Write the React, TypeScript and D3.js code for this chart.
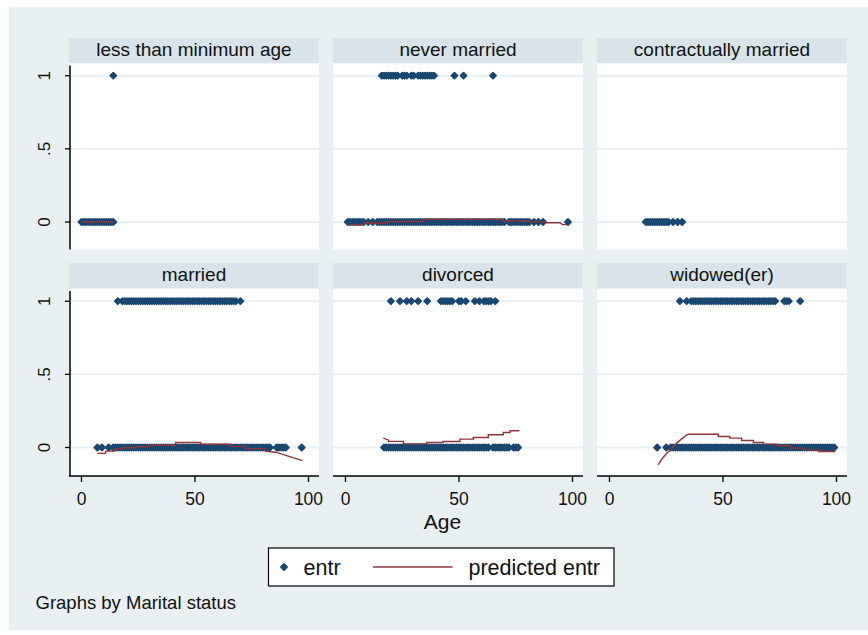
import React from "react";
import * as d3 from "d3";

// ---------- data ----------
const panelTitles = [
  "less than minimum age",
  "never married",
  "contractually married",
  "married",
  "divorced",
  "widowed(er)",
];
const xTicks = [0, 50, 100];
const yTicks = [0, 0.5, 1];
const yTickLabels = ["0", ".5", "1"];
const legendLabels = ["entr", "predicted entr"];
const xTitle = "Age";
const noteText = "Graphs by Marital status";

// ages with entr = 0 / entr = 1, per marital status
const lessMin0 = [0, 1, 2, 3, 4, 5, 6, 7, 8, 9, 10, 11, 12, 13, 14];
const lessMin1 = [14];
const lessMinPred: [number, number][] = [[0, 0], [14, 0]];

const never0 = [1, 2, 3, 4, 5, 6, 7, 8, 10, 12, 14, 15, 16, 17, 18, 19, 20, 21, 22, 23, 24, 25, 26, 27, 28, 29, 30, 31, 32, 33, 34, 35, 36, 37, 38, 39, 40, 41, 42, 43, 44, 45, 46, 47, 48, 49, 50, 51, 52, 53, 54, 55, 56, 57, 58, 59, 60, 61, 62, 63, 64, 65, 66, 67, 68, 69, 70, 72, 73, 74, 75, 76, 77, 78, 79, 80, 81, 83, 85, 87, 98];
const never1 = [16, 17, 18, 19, 20, 21, 22, 23, 25, 26, 27, 29, 30, 32, 33, 34, 35, 36, 37, 38, 39, 48, 52, 65];
const neverPred: [number, number][] = [
  [2, -0.018], [8, -0.018], [8, -0.007], [18.5, -0.007], [18.5, 0.003], [34, 0.003],
  [34, 0.018], [69.5, 0.018], [69.5, 0.007], [81, 0.007], [81, 0.001], [88.5, 0.001],
  [88.5, -0.005], [94.5, -0.005], [95.5, -0.018], [97.5, -0.018],
];

const contract0 = [16, 17, 18, 19, 20, 21, 22, 23, 24, 25, 26, 28, 30, 32];
const contract1: number[] = [];
const contractPred: [number, number][] = [];

const married0 = [7, 9, 12, 14, 15, 16, 17, 18, 19, 20, 21, 22, 23, 24, 25, 26, 27, 28, 29, 30, 31, 32, 33, 34, 35, 36, 37, 38, 39, 40, 41, 42, 43, 44, 45, 46, 47, 48, 49, 50, 51, 52, 53, 54, 55, 56, 57, 58, 59, 60, 61, 62, 63, 64, 65, 66, 67, 68, 69, 70, 71, 72, 73, 74, 75, 76, 77, 78, 79, 80, 81, 82, 83, 86, 87, 88, 89, 90, 97];
const married1 = [16, 18, 19, 20, 21, 22, 23, 24, 25, 26, 27, 28, 29, 30, 31, 32, 33, 34, 35, 36, 37, 38, 39, 40, 41, 42, 43, 44, 45, 46, 47, 48, 49, 50, 51, 52, 53, 54, 55, 56, 57, 58, 59, 60, 61, 62, 63, 64, 65, 66, 67, 68, 70];
const marriedPred: [number, number][] = [
  [7, -0.04], [10.6, -0.04], [10.6, -0.025], [14.3, -0.025], [14.3, -0.01], [18, -0.01],
  [18, -0.002], [23.9, -0.002], [23.9, 0.005], [29.7, 0.005], [29.7, 0.015], [41.5, 0.015],
  [41.5, 0.034], [52.5, 0.034], [52.5, 0.022], [65, 0.022], [65, 0.008], [72.3, 0.008],
  [72.3, -0.008], [81, -0.008], [81, -0.025], [85.5, -0.032], [97.3, -0.09],
];

const divorced0 = [17, 18, 19, 20, 21, 22, 23, 24, 25, 26, 27, 28, 29, 30, 31, 32, 33, 34, 35, 36, 37, 38, 39, 40, 41, 42, 43, 44, 45, 46, 47, 48, 49, 50, 51, 52, 53, 54, 55, 56, 57, 58, 59, 60, 61, 62, 63, 65, 66, 67, 68, 69, 70, 71, 72, 74, 75, 76];
const divorced1 = [20, 24, 27, 29, 32, 36, 42, 43, 44, 45, 46, 47, 50, 51, 53, 57, 59, 61, 62, 63, 64, 66];
const divorcedPred: [number, number][] = [
  [16.7, 0.064], [19, 0.05], [19, 0.042], [25.5, 0.042], [25.5, 0.025], [35.8, 0.025],
  [35.8, 0.034], [43, 0.034], [43, 0.041], [50.4, 0.041], [50.4, 0.057], [56.3, 0.057],
  [56.3, 0.068], [62.9, 0.068], [62.9, 0.087], [69.5, 0.087], [69.5, 0.103], [72.5, 0.103],
  [72.5, 0.114], [76.6, 0.114],
];

const widowed0 = [21, 25, 27, 28, 29, 30, 31, 32, 33, 34, 35, 36, 37, 38, 39, 40, 41, 42, 43, 44, 45, 46, 47, 48, 49, 50, 51, 52, 53, 54, 55, 56, 57, 58, 59, 60, 61, 62, 63, 64, 65, 66, 67, 68, 69, 70, 71, 72, 73, 74, 75, 76, 77, 78, 79, 80, 81, 82, 83, 84, 85, 86, 87, 88, 89, 90, 91, 92, 93, 94, 95, 96, 97, 98, 99];
const widowed1 = [31, 34, 36, 37, 38, 39, 40, 41, 42, 43, 44, 45, 46, 47, 48, 49, 50, 51, 52, 53, 54, 55, 56, 57, 58, 59, 60, 61, 62, 63, 64, 65, 66, 67, 68, 69, 70, 71, 72, 73, 77, 78, 79, 84];
const widowedPred: [number, number][] = [
  [21.5, -0.118], [23, -0.08], [25.2, -0.039], [27.4, -0.009], [29.6, 0.03], [31.8, 0.059],
  [34, 0.087], [35, 0.091], [47.9, 0.091], [47.9, 0.075], [53, 0.075], [53, 0.064],
  [58.2, 0.064], [58.2, 0.048], [63.4, 0.048], [63.4, 0.034], [67.8, 0.034], [67.8, 0.023],
  [73.7, 0.023], [73.7, 0.012], [79.6, 0.012], [79.6, -0.004], [85.5, -0.004], [85.5, -0.016],
  [92.2, -0.016], [92.2, -0.027], [99.5, -0.027],
];

const zeroAges = [lessMin0, never0, contract0, married0, divorced0, widowed0];
const oneAges = [lessMin1, never1, contract1, married1, divorced1, widowed1];
const predLines = [lessMinPred, neverPred, contractPred, marriedPred, divorcedPred, widowedPred];

// ---------- styles ----------
const FONT = "'Liberation Sans', Arial, Helvetica, sans-serif";
const BG = "#e9f0f2";
const STRIP = "#d8e4e9";
const GRID = "#e8eff2";
const NAVY = "#1a476f";
const MAROON = "#90353b";

const colLeft = [69, 333, 597];
const panelW = 250;
const stripTop = [38, 263];
const stripH = 25;
const plotTop = [63.5, 289];
const plotH = [186, 187];

const diamond = (cx: number, cy: number, r: number) =>
  `M${cx},${cy - r}L${cx + r},${cy}L${cx},${cy + r}L${cx - r},${cy}Z`;

const Marker = ({ cx, cy }: { cx: number; cy: number }) => (
  <path
    d={diamond(cx, cy, 3)}
    fill={NAVY}
    stroke={NAVY}
    strokeWidth={1.8}
    strokeLinejoin="round"
  />
);

export default function App() {
  const panels = panelTitles.map((title, i) => {
    const col = i % 3;
    const row = Math.floor(i / 3);
    const x = d3.scaleLinear().domain([0, 100]).range([colLeft[col] + 12.5, colLeft[col] + 239.5]);
    const y = d3.scaleLinear().domain([0, 1]).range([plotTop[row] + 158.5, plotTop[row] + 12.2]);
    const line = d3
      .line<[number, number]>()
      .x((d) => x(d[0]))
      .y((d) => y(d[1]));
    const left = colLeft[col];
    const top = plotTop[row];
    const bottom = top + plotH[row];
    return (
      <g key={title}>
        <rect x={left} y={stripTop[row]} width={panelW} height={stripH} fill={STRIP} />
        <text
          x={left + panelW / 2}
          y={stripTop[row] + 18}
          textAnchor="middle"
          fontFamily={FONT}
          fontSize={19}
          fill="#111"
        >
          {title}
        </text>
        <rect x={left} y={top} width={panelW} height={plotH[row]} fill="#fff" />
        {yTicks.map((t) => (
          <line key={t} x1={left} x2={left + panelW} y1={y(t)} y2={y(t)} stroke={GRID} strokeWidth={2} />
        ))}
        {zeroAges[i].map((a, k) => (
          <Marker key={"z" + k} cx={x(a)} cy={y(0)} />
        ))}
        {oneAges[i].map((a, k) => (
          <Marker key={"o" + k} cx={x(a)} cy={y(1)} />
        ))}
        {predLines[i].length > 0 && (
          <path d={line(predLines[i]) || ""} fill="none" stroke={MAROON} strokeWidth={1.4} />
        )}
        {col === 0 && (
          <g>
            <line x1={left + 1} x2={left + 1} y1={top + 2} y2={bottom} stroke="#000" strokeWidth={1.5} />
            {yTicks.map((t, k) => (
              <g key={t}>
                <line x1={left - 4} x2={left + 1} y1={y(t)} y2={y(t)} stroke="#000" strokeWidth={1.3} />
                <text
                  transform={`translate(${left - 19},${y(t)}) rotate(-90)`}
                  textAnchor="middle"
                  fontFamily={FONT}
                  fontSize={17}
                  fill="#111"
                >
                  {yTickLabels[k]}
                </text>
              </g>
            ))}
          </g>
        )}
        {row === 1 && (
          <g>
            <line x1={left} x2={left + panelW} y1={bottom} y2={bottom} stroke="#000" strokeWidth={1.5} />
            {xTicks.map((t) => (
              <g key={t}>
                <line x1={x(t)} x2={x(t)} y1={bottom} y2={bottom + 6} stroke="#000" strokeWidth={1.3} />
                <text x={x(t)} y={bottom + 29} textAnchor="middle" fontFamily={FONT} fontSize={17.5} fill="#111">
                  {t}
                </text>
              </g>
            ))}
          </g>
        )}
      </g>
    );
  });

  return (
    <svg
      width={868}
      height={635}
      style={{ position: "absolute", left: 0, top: 0, display: "block" }}
    >
      <rect x={0} y={0} width={868} height={635} fill="#fff" />
      <rect x={9} y={7} width={859} height={623} fill={BG} />
      {panels}
      <text x={442.5} y={529} textAnchor="middle" fontFamily={FONT} fontSize={21} fill="#111">
        {xTitle}
      </text>
      <g>
        <rect x={268.5} y={548} width={345.5} height={38} fill="#fff" stroke="#000" strokeWidth={1.2} />
        <path d={diamond(284, 567, 3)} fill={NAVY} stroke={NAVY} strokeWidth={1.8} strokeLinejoin="round" />
        <text x={303.5} y={574.5} fontFamily={FONT} fontSize={21.5} fill="#111">
          {legendLabels[0]}
        </text>
        <line x1={373} x2={452.5} y1={567} y2={567} stroke={MAROON} strokeWidth={1.4} />
        <text x={468.5} y={574.5} fontFamily={FONT} fontSize={21.5} fill="#111">
          {legendLabels[1]}
        </text>
      </g>
      <text x={35.5} y={609} fontFamily={FONT} fontSize={18.5} fill="#111">
        {noteText}
      </text>
    </svg>
  );
}
